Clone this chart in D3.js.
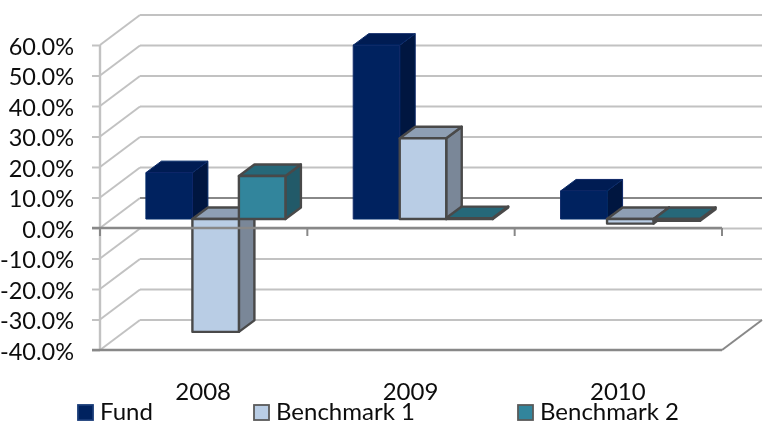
<!DOCTYPE html>
<html>
<head>
<meta charset="utf-8">
<script src="https://cdn.jsdelivr.net/npm/d3@7"></script>
<style>
html,body{margin:0;padding:0;background:#fff;overflow:hidden}
text{font-family:Lato,"Open Sans",sans-serif;fill:#0c0c0c}
</style>
</head>
<body>
<svg id="c" width="768" height="435"></svg>
<script>
const categories = ["2008", "2009", "2010"];
const seriesNames = ["Fund", "Benchmark 1", "Benchmark 2"];
const fund = [15.2, 57, 9.2];
const benchmark1 = [-37, 26.5, -1.5];
const benchmark2 = [14.1, 0.3, -0.6];
const tickValues = [60, 50, 40, 30, 20, 10, 0, -10, -20, -30, -40];

const seriesValues = [fund, benchmark1, benchmark2];
const front = ["#00205f", "#b9cde5", "#31859c"];
const topFace = ["#001c52", "#8e9fb4", "#256779"];
const sideFace = ["#001540", "#7a8798", "#235a69"];
const edge = ["#0a2a68", "#4a4a4a", "#4a4a4a"];

const W = {dx: 40, dy: -30};   // wall depth
const B = {dx: 15.5, dy: -11.5}; // bar depth
const O = {dx: 12, dy: -9};    // bar offset into the floor

const svg = d3.select("#c");
const defs = svg.append("defs");
defs.append("filter").attr("id", "soft").append("feGaussianBlur").attr("stdDeviation", 0.4);
const root = svg.append("g").attr("filter", "url(#soft)");

const y = d3.scaleLinear().domain([-40, 60]).range([350, 45]);
const x = d3.scaleBand().domain(categories).range([100, 722]);
const inner = d3.scaleBand().domain(d3.range(3)).range([33.9, 33.9 + 139.5]);
const xEnd = x.range()[1];

const light = "#c2c2c2", dark = "#888888";
const line = (g, a, b, c, d, col, w) =>
  g.append("line").attr("x1", a).attr("y1", b).attr("x2", c).attr("y2", d)
   .attr("stroke", col).attr("stroke-width", w);

// walls
const grid = root.append("g");
tickValues.forEach(v => {
  const yy = y(v);
  line(grid, x.range()[0], yy, x.range()[0] + W.dx, yy + W.dy, light, 2);
  line(grid, x.range()[0] + W.dx, yy + W.dy, xEnd + W.dx, yy + W.dy, v === 0 ? dark : light, 2);
});
line(grid, xEnd, y(-40), xEnd + W.dx, y(-40) + W.dy, dark, 2);

// bars
const bars = root.append("g");
const poly = (pts, fill, stroke, sw) =>
  bars.append("polygon").attr("points", pts.map(p => p.join(",")).join(" "))
      .attr("fill", fill).attr("stroke", stroke).attr("stroke-width", sw)
      .attr("stroke-linejoin", "round");

categories.forEach((cat, ci) => {
  seriesValues.forEach((vals, si) => {
    const v = vals[ci];
    const x0 = x(cat) + inner(si) + O.dx;
    const x1 = x0 + inner.bandwidth();
    const yTop = Math.min(y(v), y(0)) + O.dy;
    const yBot = Math.max(y(v), y(0)) + O.dy;
    const sw = si === 0 ? 1 : 2.4;
    poly([[x1, yTop], [x1 + B.dx, yTop + B.dy], [x1 + B.dx, yBot + B.dy], [x1, yBot]], sideFace[si], edge[si], sw);
    poly([[x0, yTop], [x0 + B.dx, yTop + B.dy], [x1 + B.dx, yTop + B.dy], [x1, yTop]], topFace[si], edge[si], sw);
    poly([[x0, yTop], [x1, yTop], [x1, yBot], [x0, yBot]], front[si], edge[si], sw);
  });
});

// y axis
const yAxis = d3.axisLeft(y).tickValues(tickValues).tickSize(8).tickPadding(18)
  .tickFormat(d => d.toFixed(1) + "%");
const ya = root.append("g").attr("transform", "translate(100,0)").call(yAxis);
ya.select(".domain").attr("d", `M0,${y(60)}V${y(-40)}`).attr("stroke", light).attr("stroke-width", 2.4);
ya.selectAll(".tick line").attr("stroke", light).attr("stroke-width", 2);
ya.selectAll(".tick text").attr("font-size", 23.5).attr("dy", "0.4em")
  .attr("font-family", 'Lato,"Open Sans",sans-serif').attr("fill", "#0c0c0c");

// zero axis + floor front edge
const axes = root.append("g");
line(axes, 92, y(0), xEnd, y(0), dark, 2.4);
line(axes, 92, y(-40), xEnd, y(-40), dark, 2.4);
categories.concat(["end"]).forEach((c, i) => {
  const xx = x.range()[0] + i * x.bandwidth();
  line(axes, xx, y(0), xx, y(0) + 8, dark, 2);
});

// category labels
root.append("g").selectAll("text").data(categories).join("text")
  .attr("x", d => x(d) + x.bandwidth() / 2 - 0.5)
  .attr("y", 399.5).attr("text-anchor", "middle").attr("font-size", 24).text(d => d);

// legend
const legendX = [78, 254, 518];
const lg = root.append("g").selectAll("g").data(seriesNames).join("g")
  .attr("transform", (d, i) => `translate(${legendX[i]},405)`);
lg.append("rect").attr("width", 15).attr("height", 15)
  .attr("fill", (d, i) => front[i]).attr("stroke", (d, i) => i ? "#5a5a5a" : "#1a3a78").attr("stroke-width", 1.8);
lg.append("text").attr("x", 22).attr("y", 15).attr("font-size", 24).text(d => d);
</script>
</body>
</html>
